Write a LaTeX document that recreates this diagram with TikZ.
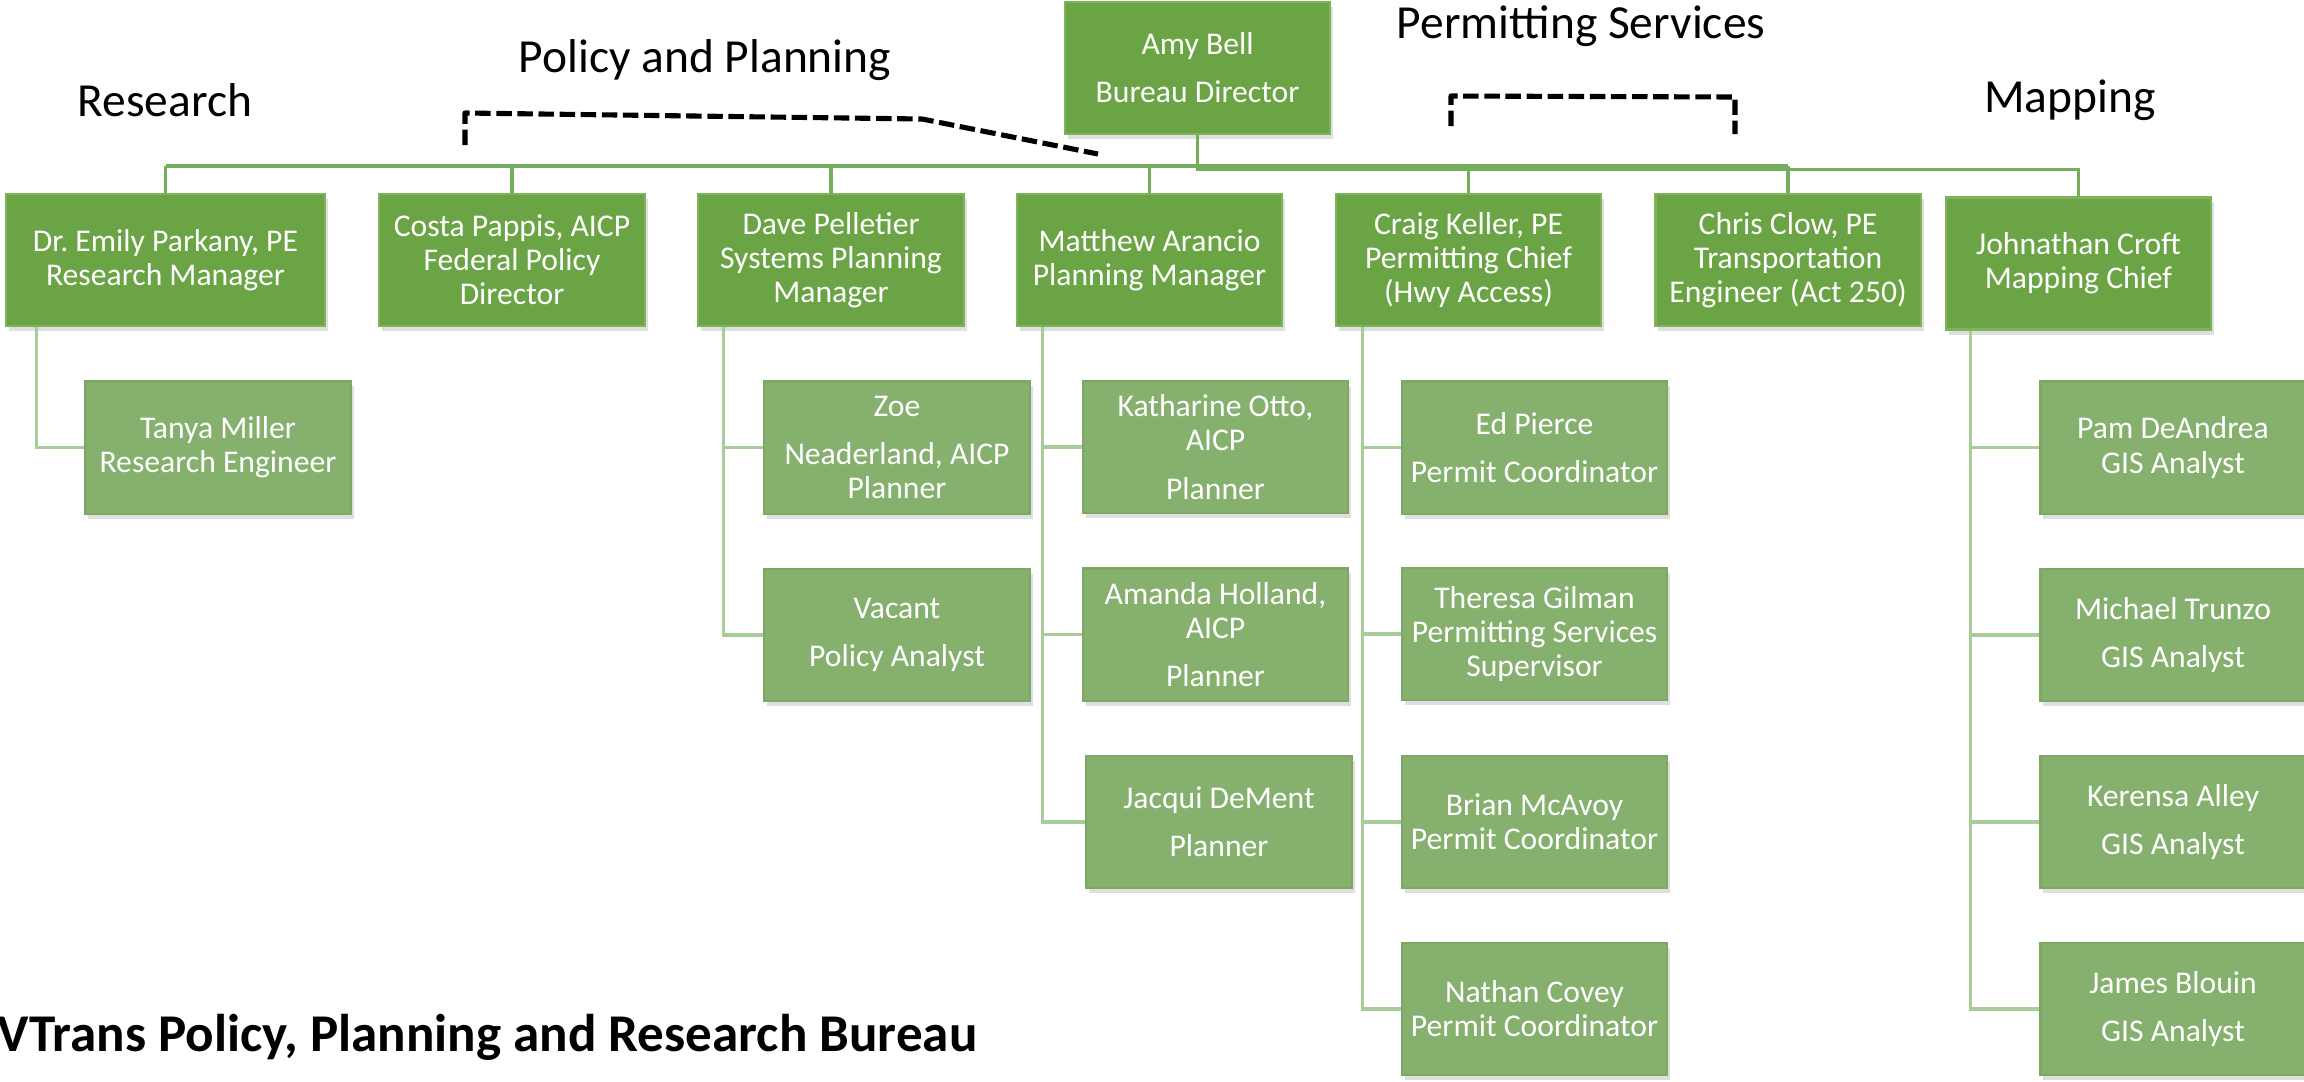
\documentclass[tikz,border=0pt]{standalone}
\usepackage{fontspec}
\setmainfont{Carlito}
\usepackage{xcolor}
\usepackage{tikz}
\usetikzlibrary{calc,shadows}
\definecolor{lead}{HTML}{6AA444}
\definecolor{leadedge}{HTML}{7DB35A}
\definecolor{staff}{HTML}{86B06E}
\definecolor{staffedge}{HTML}{7CA765}
\definecolor{linkc}{HTML}{74AE5C}
\definecolor{sublinkc}{HTML}{A8CD9B}
\tikzset{
  chief/.style={draw=leadedge, fill=lead, line width=0.6pt, text=white, align=center,
    minimum width=2.65cm, minimum height=1.32cm, inner sep=0pt,
    font=\fontsize{9}{9.7}\selectfont,
    drop shadow={shadow xshift=0.03cm, shadow yshift=-0.05cm, opacity=0.25}},
  member/.style={chief, draw=staffedge, fill=staff},
  link/.style={draw=linkc, line width=0.9pt},
  sublink/.style={draw=sublinkc, line width=0.9pt},
  bracket/.style={draw=black, line width=1.45pt, line join=round, dash pattern=on 4.4pt off 1.6pt},
  grp/.style={inner sep=0pt, font=\fontsize{13.5}{16}\selectfont},
  banner/.style={inner sep=0pt, font=\fontsize{15.1}{18}\selectfont\bfseries},
}

\begin{document}
\begin{tikzpicture}[x=0.01cm, y=-0.01cm]
  \useasboundingbox (0,0) rectangle (2304,1081);
  % group headings
  \node[grp, anchor=base] (research) at (165,116) {Research};
  \node[grp, anchor=base] (policy) at (705,72) {Policy and Planning};
  \node[grp, anchor=base] (permit) at (1581,38) {Permitting Services};
  \node[grp, anchor=base] (mapping) at (2070,112) {Mapping};
  \node[banner, anchor=base west] (title) at (-3,1051) {VTrans Policy, Planning and Research Bureau};
  % dashed brackets
  \coordinate (pp1) at (465,145);
  \coordinate (pp2) at (465,113);
  \coordinate (pp3) at (922,119);
  \coordinate (pp4) at (1098,154);
  \draw[bracket] (pp1) -- (pp2) -- (pp3) -- (pp4);
  \coordinate (ps1) at (1451,126);
  \coordinate (ps2) at (1451,96);
  \coordinate (ps3) at (1735,97);
  \coordinate (ps4) at (1735,134);
  \draw[bracket] (ps1) -- (ps2) -- (ps3) -- (ps4);
  % director and managers
  \node[chief] (amy) at (1197.5,68) {Amy Bell\\[4pt]Bureau Director};
  \node[chief, minimum width=3.19cm] (emily) at (165.5,260) {Dr.\ Emily Parkany, PE\\Research Manager};
  \node[chief] (costa) at (512,260) {Costa Pappis, AICP\\Federal Policy\\Director};
  \node[chief] (dave) at (831,260) {Dave Pelletier\\Systems Planning\\Manager};
  \node[chief] (matt) at (1149.5,260) {Matthew Arancio\\Planning Manager};
  \node[chief] (craig) at (1468.5,260) {Craig Keller, PE\\Permitting Chief\\(Hwy Access)};
  \node[chief] (chris) at (1788,260) {Chris Clow, PE\\Transportation\\Engineer (Act 250)};
  \node[chief] (john) at (2078.5,263.5) {Johnathan Croft\\Mapping Chief};
  % staff
  \node[member] (tanya) at (218,447.5) {Tanya Miller\\Research Engineer};
  \node[member] (zoe) at (897,447.5) {Zoe\\[4pt]Neaderland, AICP\\Planner};
  \node[member] (vacant) at (897,635) {Vacant\\[4pt]Policy Analyst};
  \node[member] (kath) at (1215.5,447) {Katharine Otto,\\AICP\\[4pt]Planner};
  \node[member] (amanda) at (1215.5,634.5) {Amanda Holland,\\AICP\\[4pt]Planner};
  \node[member] (jacqui) at (1219,822) {Jacqui DeMent\\[4pt]Planner};
  \node[member] (ed) at (1534.5,447.5) {Ed Pierce\\[4pt]Permit Coordinator};
  \node[member] (theresa) at (1534.5,634) {Theresa Gilman\\Permitting Services\\Supervisor};
  \node[member] (brian) at (1534.5,822) {Brian McAvoy\\Permit Coordinator};
  \node[member] (nathan) at (1534.5,1009) {Nathan Covey\\Permit Coordinator};
  \node[member] (pam) at (2173,447.5) {Pam DeAndrea\\GIS Analyst};
  \node[member] (michael) at (2173,635) {Michael Trunzo\\[4pt]GIS Analyst};
  \node[member] (kerensa) at (2173,822) {Kerensa Alley\\[4pt]GIS Analyst};
  \node[member] (james) at (2173,1009) {James Blouin\\[4pt]GIS Analyst};
  % top connectors
  \coordinate (bus) at (0,166);
  \coordinate (bus2) at (0,169.5);
  \draw[link] (emily.north |- bus) -- (chris.north |- bus);
  \draw[link] (emily.north) -- (emily.north |- bus);
  \draw[link] (costa.north) -- (costa.north |- bus);
  \draw[link] (dave.north) -- (dave.north |- bus);
  \draw[link] (matt.north) -- (matt.north |- bus);
  \draw[link] (craig.north) -- (craig.north |- bus);
  \draw[link] (chris.north) -- (chris.north |- bus);
  \draw[link] (amy.south) -- (amy.south |- bus2) -| (john.north);
  % staff connectors
  \draw[sublink] ($(emily.south west)+(32,0)$) |- (tanya.west);
  \draw[sublink] ($(dave.south west)+(26,0)$) coordinate (dv) |- (zoe.west) (dv) |- (vacant.west);
  \draw[sublink] ($(matt.south west)+(27,0)$) coordinate (mt) |- (kath.west) (mt) |- (amanda.west) (mt) |- (jacqui.west);
  \draw[sublink] ($(craig.south west)+(28,0)$) coordinate (cr) |- (ed.west) (cr) |- (theresa.west) (cr) |- (brian.west) (cr) |- (nathan.west);
  \draw[sublink] ($(john.south west)+(26,0)$) coordinate (jc) |- (pam.west) (jc) |- (michael.west) (jc) |- (kerensa.west) (jc) |- (james.west);
\end{tikzpicture}
\end{document}
